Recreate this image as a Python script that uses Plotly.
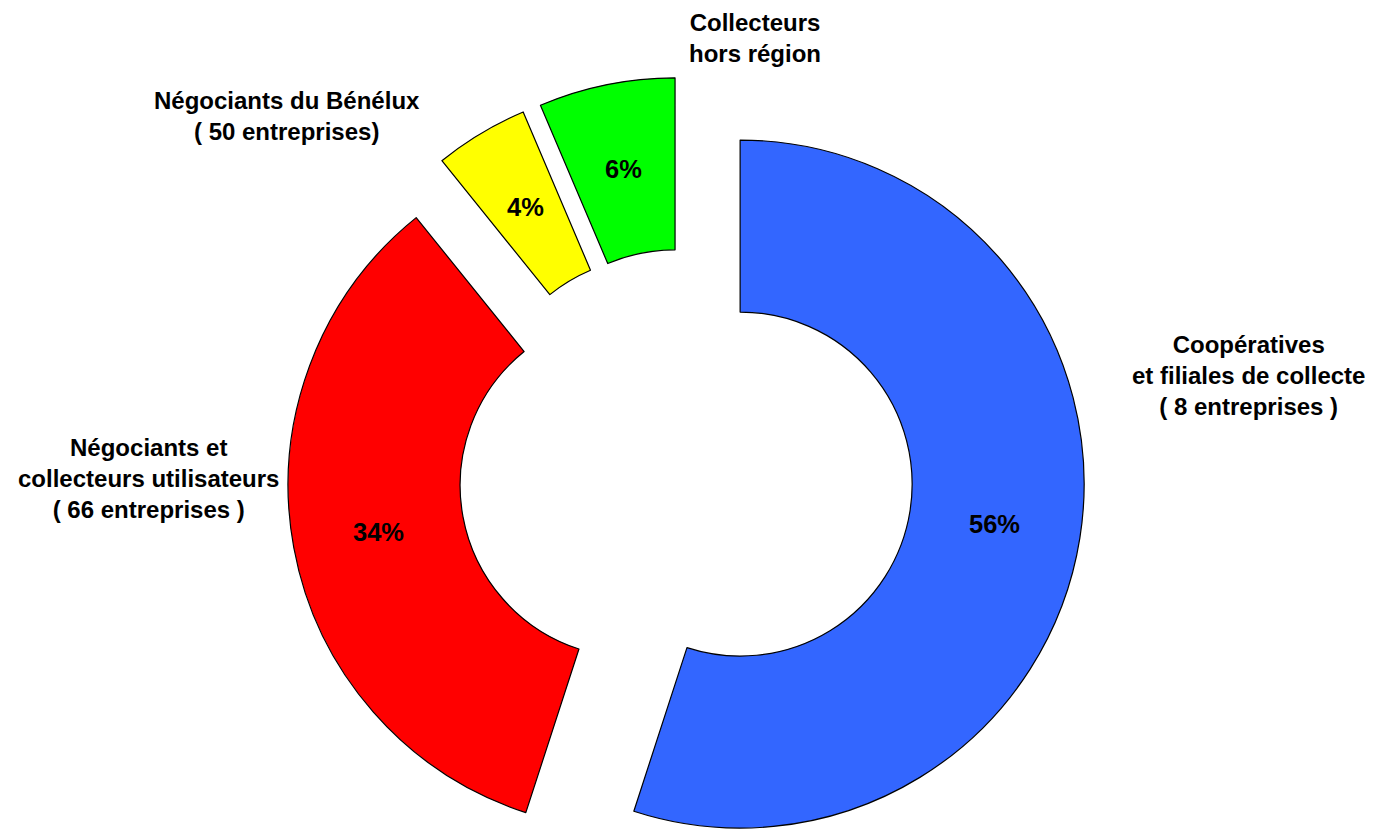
import math
import plotly.graph_objects as go

# ---- data ----
categories = [
    "Coopératives et filiales de collecte",
    "Négociants et collecteurs utilisateurs",
    "Négociants du Bénélux",
    "Collecteurs hors région",
]
shares = [55.0, 34.2, 4.4, 6.4]          # slice sizes
pct_labels = ["56%", "34%", "4%", "6%"]  # percentages printed on the slices
label_texts = [
    "Coopératives<br>et filiales de collecte<br>( 8 entreprises )",
    "Négociants et<br>collecteurs utilisateurs<br>( 66 entreprises )",
    "Négociants du Bénélux<br>( 50 entreprises)",
    "Collecteurs<br>hors région",
]

# ---- styles / layout ----
colors = ["#3366FF", "#FF0000", "#FFFF00", "#00FF00"]
PAGE_OFF = 8  # default body margin of the html page
label_xy = [(1248, 376), (148, 478), (287, 116), (755, 38)]  # page px, from top-left
W, H = 1377, 829
CX, CY = 686.0 - PAGE_OFF, 475.5 - PAGE_OFF   # un-exploded pie centre (figure px)
R = 344.0               # outer radius in px
HOLE = 0.5
EXPLODE = 54.8          # explosion distance in px
FONT = "Liberation Sans, Arial, sans-serif"

total = sum(shares)
fig = go.Figure()
cum = 0.0
n = len(shares)
for k in range(n):
    mid = (cum + shares[k] / 2) / total * 2 * math.pi
    cum += shares[k]
    cx = CX + EXPLODE * math.sin(mid)
    cy = CY - EXPLODE * math.cos(mid)
    x0, x1 = (cx - R) / W, (cx + R) / W
    y0, y1 = (H - cy - R) / H, (H - cy + R) / H
    x0, x1 = max(0.0, x0), min(1.0, x1)
    y0, y1 = max(0.0, y0), min(1.0, y1)
    fig.add_trace(go.Pie(
        values=shares,
        labels=categories,
        sort=False,
        direction="clockwise",
        rotation=0,
        hole=HOLE,
        domain=dict(x=[x0, x1], y=[y0, y1]),
        marker=dict(
            colors=[colors[i] if i == k else "rgba(0,0,0,0)" for i in range(n)],
            line=dict(color="black", width=[1.2 if i == k else 0 for i in range(n)]),
        ),
        textinfo="none",
        hoverinfo="skip",
        showlegend=False,
    ))
    # percentage label at the middle of the ring, along the slice's mid-angle
    rho = R * (1 + HOLE) / 2
    tx = cx + rho * math.sin(mid)
    ty = cy - rho * math.cos(mid)
    fig.add_annotation(
        x=tx / W, y=1 - ty / H, xref="paper", yref="paper",
        text=pct_labels[k], showarrow=False, xanchor="center", yanchor="middle",
        font=dict(family=FONT, size=25.5, color="black", weight="bold"),
    )

for txt, (px, py) in zip(label_texts, label_xy):
    fig.add_annotation(
        x=(px - PAGE_OFF) / W, y=1 - (py - PAGE_OFF) / H, xref="paper", yref="paper",
        text=txt, showarrow=False, xanchor="center", yanchor="middle",
        align="center",
        font=dict(family=FONT, size=24, color="black", weight="bold"),
    )

fig.update_layout(
    width=W, height=H,
    margin=dict(l=0, r=0, t=0, b=0),
    paper_bgcolor="white",
    plot_bgcolor="white",
    showlegend=False,
)

fig.write_html("out.html")
